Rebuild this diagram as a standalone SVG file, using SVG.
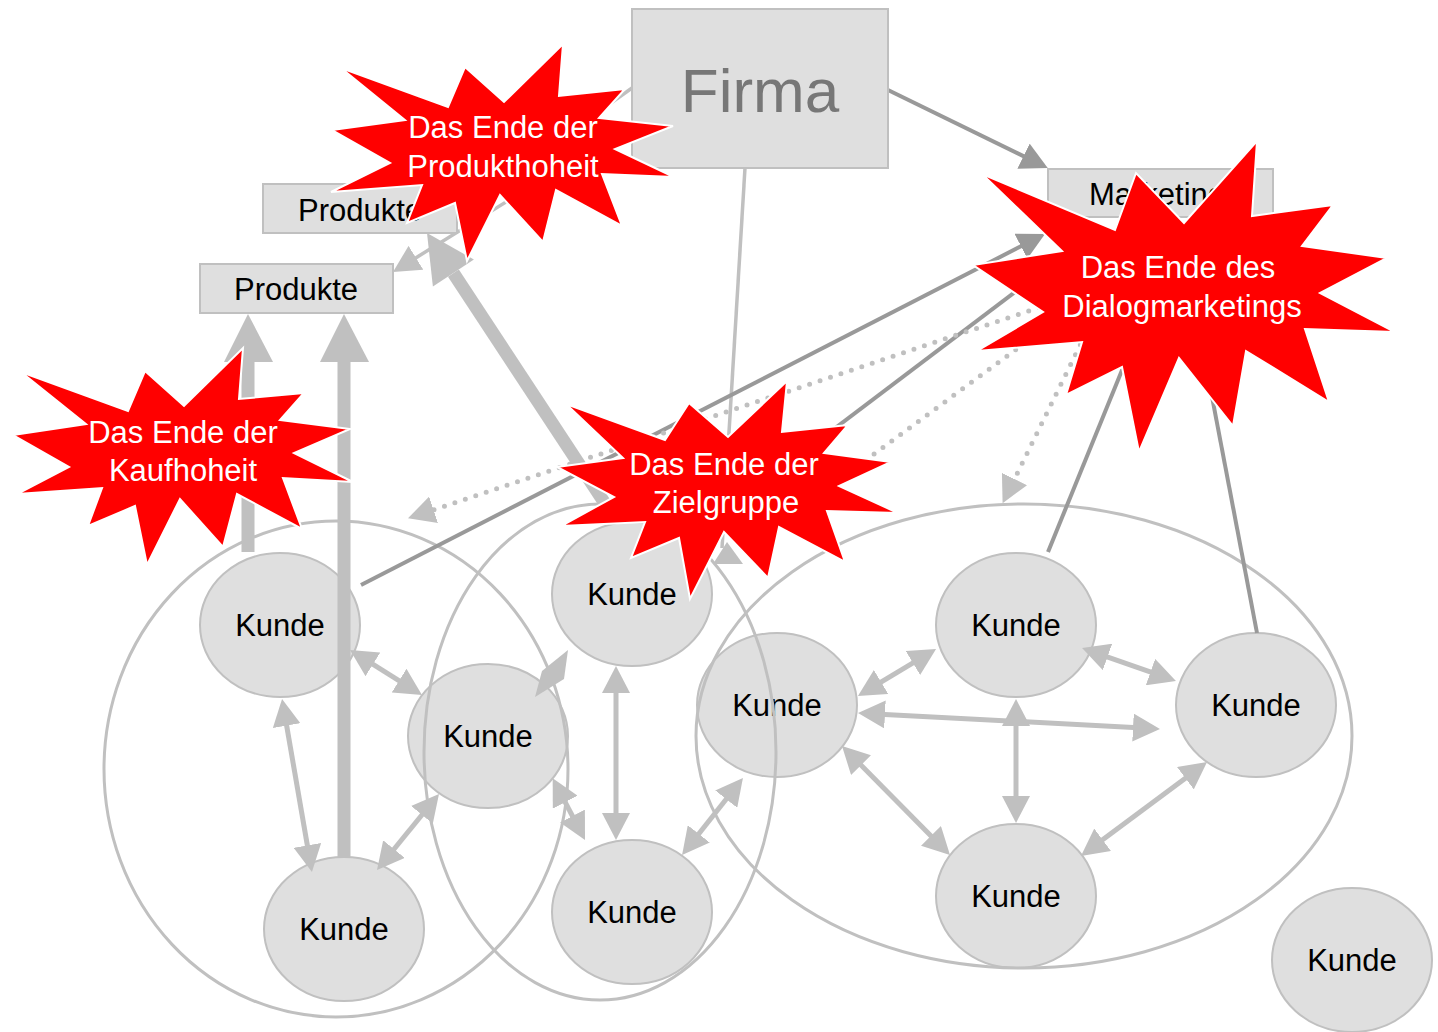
<svg xmlns="http://www.w3.org/2000/svg" width="1438" height="1032" viewBox="0 0 1438 1032">
<style>
.k{fill:#dfdfdf;stroke:#c0c0c0;stroke-width:2}
.grp{fill:none;stroke:#c0c0c0;stroke-width:3}
.box{fill:#dfdfdf;stroke:#c0c0c0;stroke-width:2}
.t{font-family:"Liberation Sans",Arial,sans-serif;font-size:31px;fill:#000;text-anchor:middle}
.w{font-family:"Liberation Sans",Arial,sans-serif;font-size:31px;fill:#fff;text-anchor:middle}
.star{fill:#ff0000;stroke:#fff;stroke-width:2;stroke-linejoin:miter}
.a{stroke:#c0c0c0;stroke-width:5;fill:none}
.thin{stroke:#c0c0c0;stroke-width:3.5;fill:none}
.dark{stroke:#999;stroke-width:4;fill:none}
.dot{stroke:#c0c0c0;stroke-width:5;fill:none;stroke-dasharray:0 11;stroke-linecap:round}
.thick{stroke:#c0c0c0;stroke-width:13;fill:none}
</style>
<defs>
<marker id="ah" viewBox="0 0 27 28" refX="5" refY="14" markerWidth="27" markerHeight="28" markerUnits="userSpaceOnUse" orient="auto-start-reverse"><path d="M0,0 L27,14 L0,28 z" fill="#c0c0c0"/></marker>
<marker id="ahd" viewBox="0 0 27 28" refX="5" refY="14" markerWidth="27" markerHeight="28" markerUnits="userSpaceOnUse" orient="auto-start-reverse"><path d="M0,0 L27,14 L0,28 z" fill="#999"/></marker>
<marker id="aho" viewBox="0 0 27 28" refX="0" refY="14" markerWidth="27" markerHeight="28" markerUnits="userSpaceOnUse" orient="auto"><path d="M0,0 L27,14 L0,28 z" fill="#c0c0c0"/></marker>
</defs>
<rect width="1438" height="1032" fill="#fff"/>

<g id="kunde1"><ellipse class="k" cx="280" cy="625" rx="80" ry="72"/><text class="t" x="280" y="636">Kunde</text></g>
<g id="kunde2"><ellipse class="k" cx="344" cy="929" rx="80" ry="72"/><text class="t" x="344" y="940">Kunde</text></g>
<g id="kunde3"><ellipse class="k" cx="488" cy="736" rx="80" ry="72"/><text class="t" x="488" y="747">Kunde</text></g>
<g id="kunde4"><ellipse class="k" cx="632" cy="594" rx="80" ry="72"/><text class="t" x="632" y="605">Kunde</text></g>
<g id="kunde5"><ellipse class="k" cx="632" cy="912" rx="80" ry="72"/><text class="t" x="632" y="923">Kunde</text></g>
<g id="kunde6"><ellipse class="k" cx="777" cy="705" rx="80" ry="72"/><text class="t" x="777" y="716">Kunde</text></g>
<g id="kunde7"><ellipse class="k" cx="1016" cy="625" rx="80" ry="72"/><text class="t" x="1016" y="636">Kunde</text></g>
<g id="kunde8"><ellipse class="k" cx="1256" cy="705" rx="80" ry="72"/><text class="t" x="1256" y="716">Kunde</text></g>
<g id="kunde9"><ellipse class="k" cx="1016" cy="896" rx="80" ry="72"/><text class="t" x="1016" y="907">Kunde</text></g>
<g id="kunde10"><ellipse class="k" cx="1352" cy="960" rx="80" ry="72"/><text class="t" x="1352" y="971">Kunde</text></g>

<g id="gruppen">
<ellipse class="grp" cx="336" cy="769" rx="232" ry="248"/>
<ellipse class="grp" cx="600" cy="752" rx="176" ry="248"/>
<ellipse class="grp" cx="1024" cy="736" rx="328" ry="232"/>
</g>

<g id="connectors">
<line class="thin" x1="632" y1="88" x2="480" y2="196"/>
<line class="thin" x1="632" y1="124" x2="411.7" y2="260.4" marker-end="url(#ah)"/>
<line class="thin" x1="745" y1="168" x2="722" y2="548"/>
<polygon points="727,542 713,564 743,564" fill="#c0c0c0"/>
<line class="dark" x1="888" y1="90" x2="1028" y2="158.4" marker-end="url(#ahd)"/>
<line class="dark" x1="361" y1="585" x2="1025.4" y2="244" marker-end="url(#ahd)"/>
<line class="dark" x1="690" y1="538" x2="1060" y2="258"/>
<line class="dark" x1="1048" y1="552" x2="1140" y2="326"/>
<line class="dark" x1="1257" y1="633" x2="1205" y2="360"/>
<line class="dot" x1="1060" y1="300.5" x2="433.6" y2="509.8" marker-end="url(#aho)"/>
<line class="dot" x1="1060" y1="317" x2="820" y2="494"/>
<line class="dot" x1="1090" y1="325" x2="1014.5" y2="479" marker-end="url(#aho)"/>
<line class="thick" x1="248" y1="552" x2="248" y2="360"/>
<polygon points="248,314 224,362 273,362" fill="#c0c0c0"/>
<line class="thick" x1="344" y1="857" x2="344" y2="360"/>
<polygon points="344,314 320,362 369,362" fill="#c0c0c0"/>
<line class="thick" x1="606" y1="505" x2="453.4" y2="273.1"/>
<polygon points="427,233 432.9,286.6 473.9,259.6" fill="#c0c0c0"/>
<line class="a" x1="285.8" y1="720.7" x2="308.2" y2="850.3" marker-start="url(#ah)" marker-end="url(#ah)"/>
<line class="a" x1="368.7" y1="661.7" x2="403.3" y2="683.3" marker-start="url(#ah)" marker-end="url(#ah)"/>
<line class="a" x1="390.9" y1="853" x2="425.1" y2="811" marker-start="url(#ah)" marker-end="url(#ah)"/>
<polygon points="535,697 542,671 568,650 564,679" fill="#c0c0c0"/>
<line class="a" x1="562.9" y1="797.8" x2="574.8" y2="820.5" marker-start="url(#ah)" marker-end="url(#ah)"/>
<line class="a" x1="616" y1="688" x2="616" y2="818" marker-start="url(#ah)" marker-end="url(#ah)"/>
<line class="a" x1="695.7" y1="837.8" x2="729.3" y2="795.2" marker-start="url(#ah)" marker-end="url(#ah)"/>
<line class="a" x1="876.8" y1="684.6" x2="917.2" y2="660.4" marker-start="url(#ah)" marker-end="url(#ah)"/>
<line class="a" x1="880" y1="714.2" x2="1138" y2="727.8" marker-start="url(#ah)" marker-end="url(#ah)"/>
<line class="a" x1="1016" y1="721" x2="1016" y2="801" marker-start="url(#ah)" marker-end="url(#ah)"/>
<line class="a" x1="1102.8" y1="655.3" x2="1155.2" y2="673.7" marker-start="url(#ah)" marker-end="url(#ah)"/>
<line class="a" x1="857.5" y1="761.6" x2="934.5" y2="839.4" marker-start="url(#ah)" marker-end="url(#ah)"/>
<line class="a" x1="1098.6" y1="842.8" x2="1189.4" y2="775.2" marker-start="url(#ah)" marker-end="url(#ah)"/>
</g>

<g id="firma"><rect class="box" x="632" y="9" width="256" height="159"/><text x="760" y="112" font-family="Liberation Sans, Arial, sans-serif" font-size="62" fill="#777" text-anchor="middle">Firma</text></g>
<g id="marketing"><rect class="box" x="1048" y="169" width="225" height="48"/><text class="t" x="1157" y="205">Marketing</text></g>
<g id="produkte1"><rect class="box" x="263" y="184" width="194" height="49"/><text class="t" x="360" y="221">Produkte</text></g>
<g id="produkte2"><rect class="box" x="200" y="264" width="193" height="49"/><text class="t" x="296" y="300">Produkte</text></g>

<g id="star-produkthoheit"><polygon class="star" points="341,68 448,107 465,67 504,102 563,44 559,96 625,89 599,118 673,126 615,149 674,177 602,174 622,226 556,190 543,242 500,195 467,261 455,203 407,223 422,185 331,192 390,163 332,130 405,120"/><text class="w" x="503" y="138">Das Ende der</text><text class="w" x="503" y="177">Produkthoheit</text></g>
<g id="star-kaufhoheit"><polygon class="star" points="21,372 128,411 145,371 184,406 243,348 239,399 304,393 280,420 350,429 294,453 353,482 283,478 302,529 237,494 223,547 180,499 147,565 135,506 88,526 102,488 17,494 69,467 13,435 86,424"/><text class="w" x="183" y="443">Das Ende der</text><text class="w" x="183" y="481">Kaufhoheit</text></g>
<g id="star-zielgruppe"><polygon class="star" points="566,404 665,440 689,403 728,437 787,381 782,432 848,425 824,453 891,462 839,486 898,513 827,511 845,562 779,527 768,578 724,532 690,599 679,538 631,558 645,522 561,526 614,497 557,467 623,458"/><text class="w" x="724" y="475">Das Ende der</text><text class="w" x="726" y="513">Zielgruppe</text></g>
<g id="star-dialogmarketing"><polygon class="star" points="982,174 1115,230 1136,173 1184,223 1257,141 1252,216 1333,205 1302,246 1387,258 1320,293 1395,332 1305,329 1329,402 1246,351 1233,426 1179,358 1139,452 1122,367 1066,395 1082,342 977,351 1043,312 973,265 1062,251"/><text class="w" x="1178" y="278">Das Ende des</text><text class="w" x="1182" y="317">Dialogmarketings</text></g>
</svg>
